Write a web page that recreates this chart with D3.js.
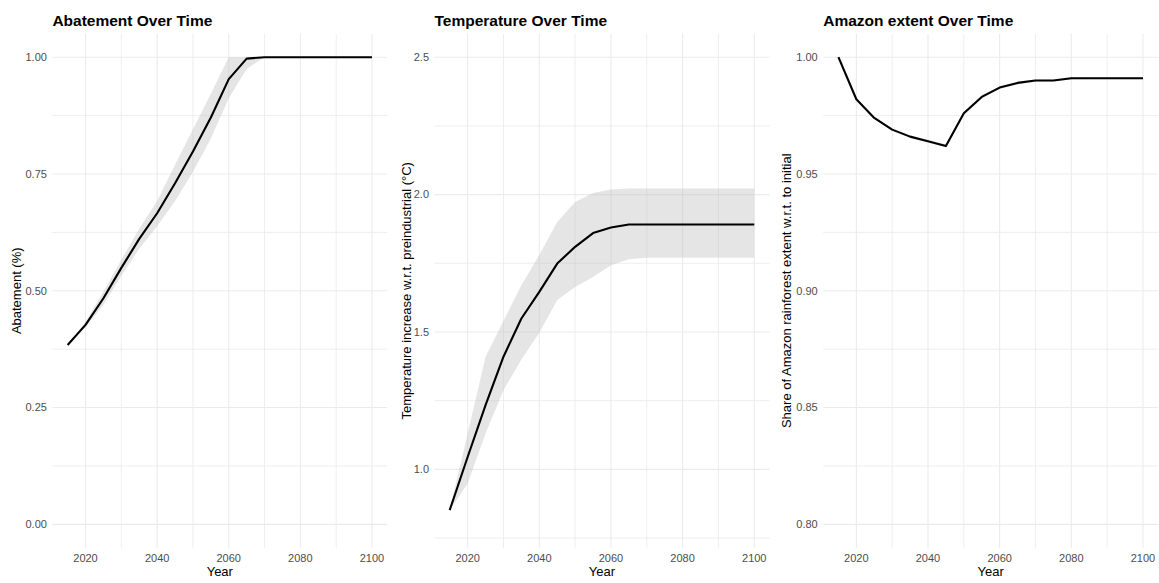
<!DOCTYPE html>
<html>
<head>
<meta charset="utf-8">
<script src="https://cdn.jsdelivr.net/npm/d3@7"></script>
<style>
  html, body { margin: 0; padding: 0; background: #fff; }
  svg { display: block; font-family: "Liberation Sans", Arial, Helvetica, sans-serif; }
</style>
</head>
<body>
<svg id="chart" width="1159" height="583"></svg>
<script>
// Simulation years (5-year steps)
const years = [2015, 2020, 2025, 2030, 2035, 2040, 2045, 2050, 2055, 2060,
               2065, 2070, 2075, 2080, 2085, 2090, 2095, 2100];

// Abatement share: mean with lower/upper band
const abatementMean  = [0.384, 0.427, 0.484, 0.549, 0.611, 0.666, 0.730, 0.798, 0.871, 0.953,
                        0.997, 1.000, 1.000, 1.000, 1.000, 1.000, 1.000, 1.000];
const abatementLower = [0.384, 0.422, 0.470, 0.532, 0.590, 0.638, 0.692, 0.755, 0.826, 0.912,
                        0.975, 1.000, 1.000, 1.000, 1.000, 1.000, 1.000, 1.000];
const abatementUpper = [0.384, 0.433, 0.498, 0.566, 0.633, 0.692, 0.770, 0.846, 0.922, 1.000,
                        1.000, 1.000, 1.000, 1.000, 1.000, 1.000, 1.000, 1.000];

// Temperature increase w.r.t. preindustrial (°C)
const temperatureMean  = [0.852, 1.045, 1.234, 1.410, 1.549, 1.646, 1.749, 1.810, 1.860, 1.880,
                          1.891, 1.891, 1.891, 1.891, 1.891, 1.891, 1.891, 1.891];
const temperatureLower = [0.852, 0.949, 1.131, 1.288, 1.400, 1.497, 1.616, 1.664, 1.700, 1.743,
                          1.765, 1.770, 1.770, 1.770, 1.770, 1.770, 1.770, 1.770];
const temperatureUpper = [0.852, 1.130, 1.410, 1.540, 1.670, 1.780, 1.900, 1.973, 2.006, 2.019,
                          2.022, 2.022, 2.022, 2.022, 2.022, 2.022, 2.022, 2.022];

// Amazon rainforest extent relative to initial
const amazonMean  = [1.000, 0.982, 0.974, 0.969, 0.966, 0.964, 0.962, 0.976, 0.983, 0.987,
                     0.989, 0.990, 0.990, 0.991, 0.991, 0.991, 0.991, 0.991];
const amazonLower = [1.000, 0.9815, 0.9735, 0.9685, 0.9655, 0.9634, 0.9613, 0.9753, 0.9823, 0.9864,
                     0.9884, 0.9895, 0.9896, 0.9905, 0.9906, 0.9906, 0.9906, 0.9906];
const amazonUpper = [1.000, 0.9825, 0.9745, 0.9695, 0.9665, 0.9646, 0.9627, 0.9767, 0.9837, 0.9876,
                     0.9896, 0.9905, 0.9904, 0.9915, 0.9914, 0.9914, 0.9914, 0.9914];

// Axis breaks and labels
const xBreaks = [2020, 2040, 2060, 2080, 2100];
const xMinor  = [2030, 2050, 2070, 2090];
const abatementTicks   = [0, 0.25, 0.5, 0.75, 1.0];
const abatementMinor   = [0.125, 0.375, 0.625, 0.875];
const temperatureTicks = [1.0, 1.5, 2.0, 2.5];
const temperatureMinor = [0.75, 1.25, 1.75, 2.25];
const amazonTicks      = [0.80, 0.85, 0.90, 0.95, 1.00];
const amazonMinor      = [0.825, 0.875, 0.925, 0.975];

const panels = [
  { title: "Abatement Over Time", ylab: "Abatement (%)",
    mean: abatementMean, lower: abatementLower, upper: abatementUpper,
    limits: [0, 1], ticks: abatementTicks, minor: abatementMinor, fmt: d3.format(".2f"),
    left: 52.4, right: 387.2, ylabX: 20.5 },
  { title: "Temperature Over Time", ylab: "Temperature increase w.r.t. preindustrial (°C)",
    mean: temperatureMean, lower: temperatureLower, upper: temperatureUpper,
    limits: [0.8, 2.5], ticks: temperatureTicks, minor: temperatureMinor, fmt: d3.format(".1f"),
    left: 434.5, right: 769.5, ylabX: 410.5 },
  { title: "Amazon extent Over Time", ylab: "Share of Amazon rainforest extent w.r.t. to initial",
    mean: amazonMean, lower: amazonLower, upper: amazonUpper,
    limits: [0.8, 1.0], ticks: amazonTicks, minor: amazonMinor, fmt: d3.format(".2f"),
    left: 823.2, right: 1158.2, ylabX: 790.5 }
];

const svg = d3.select("#chart");
const plotTop = 33.85, plotBottom = 547.7;
const gridColor = "#ebebeb";

function expand(lo, hi) {
  const pad = (hi - lo) * 0.05;
  return [lo - pad, hi + pad];
}

panels.forEach(p => {
  const x = d3.scaleLinear().domain(expand(d3.min(years), d3.max(years))).range([p.left, p.right]);
  const y = d3.scaleLinear().domain(expand(p.limits[0], p.limits[1])).range([plotBottom, plotTop]);
  const g = svg.append("g");

  // minor gridlines
  g.selectAll(".ymin").data(p.minor).join("line")
    .attr("x1", p.left).attr("x2", p.right)
    .attr("y1", d => y(d)).attr("y2", d => y(d))
    .attr("stroke", gridColor).attr("stroke-width", 0.85);
  g.selectAll(".xmin").data(xMinor).join("line")
    .attr("x1", d => x(d)).attr("x2", d => x(d))
    .attr("y1", plotTop).attr("y2", plotBottom)
    .attr("stroke", gridColor).attr("stroke-width", 0.85);
  // major gridlines
  g.selectAll(".ymaj").data(p.ticks).join("line")
    .attr("x1", p.left).attr("x2", p.right)
    .attr("y1", d => y(d)).attr("y2", d => y(d))
    .attr("stroke", gridColor).attr("stroke-width", 1.07);
  g.selectAll(".xmaj").data(xBreaks).join("line")
    .attr("x1", d => x(d)).attr("x2", d => x(d))
    .attr("y1", plotTop).attr("y2", plotBottom)
    .attr("stroke", gridColor).attr("stroke-width", 1.07);

  const rows = years.map((yr, i) => ({ yr, m: p.mean[i], lo: p.lower[i], hi: p.upper[i] }));

  // uncertainty band
  g.append("path").datum(rows)
    .attr("d", d3.area().x(d => x(d.yr)).y0(d => y(d.lo)).y1(d => y(d.hi)))
    .attr("fill", "#bebebe").attr("fill-opacity", 0.4);

  // mean path
  g.append("path").datum(rows)
    .attr("d", d3.line().x(d => x(d.yr)).y(d => y(d.m)))
    .attr("fill", "none").attr("stroke", "#000").attr("stroke-width", 2.1)
    .attr("stroke-linejoin", "round");

  // y tick labels
  g.selectAll(".ylab").data(p.ticks).join("text")
    .attr("x", p.left - 5.5).attr("y", d => y(d)).attr("dy", "0.35em")
    .attr("text-anchor", "end").attr("font-size", 11).attr("fill", "#4d4d4d")
    .text(d => p.fmt(d));
  // x tick labels
  g.selectAll(".xlab").data(xBreaks).join("text")
    .attr("x", d => x(d)).attr("y", 561.5)
    .attr("text-anchor", "middle").attr("font-size", 11).attr("fill", "#4d4d4d")
    .text(d => d);

  // axis titles
  g.append("text")
    .attr("x", (p.left + p.right) / 2).attr("y", 576)
    .attr("text-anchor", "middle").attr("font-size", 13).attr("fill", "#000")
    .text("Year");
  g.append("text")
    .attr("transform", `translate(${p.ylabX},${(plotTop + plotBottom) / 2}) rotate(-90)`)
    .attr("text-anchor", "middle").attr("font-size", 13).attr("fill", "#000")
    .text(p.ylab);

  // panel title
  g.append("text")
    .attr("x", p.left).attr("y", 26)
    .attr("font-size", 15.5).attr("font-weight", "bold").attr("fill", "#000")
    .text(p.title);
});
</script>
</body>
</html>
